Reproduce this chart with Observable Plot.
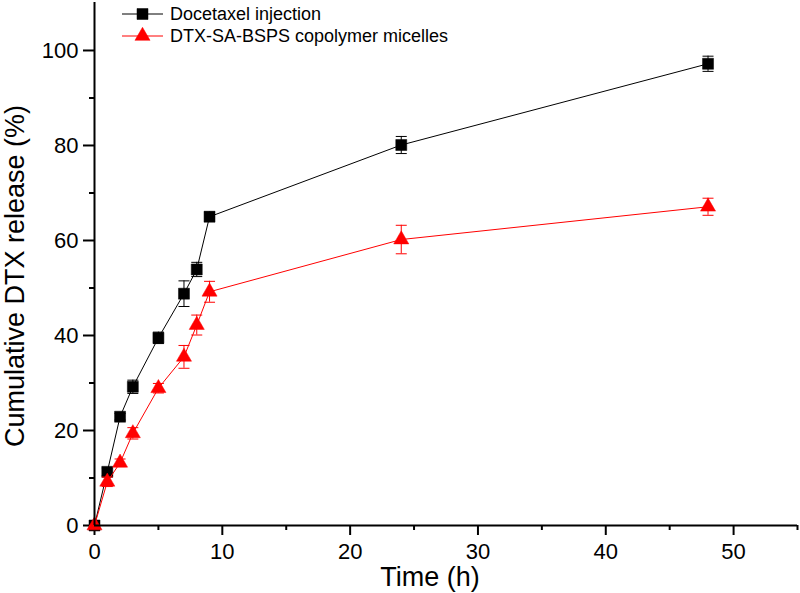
<!DOCTYPE html>
<html>
<head>
<meta charset="utf-8">
<script src="https://cdn.jsdelivr.net/npm/d3@7"></script>
<script src="https://cdn.jsdelivr.net/npm/@observablehq/plot@0.6"></script>
<style>
  html, body { margin: 0; padding: 0; background: #fff; }
  #chart { width: 800px; height: 593px; }
</style>
</head>
<body>
<div id="chart"></div>
<script>
// Data
const times = [0, 1, 2, 3, 5, 7, 8, 9, 24, 48];
const seriesNames = ["Docetaxel injection", "DTX-SA-BSPS copolymer micelles"];
const docetaxel = [0, 11.3, 22.9, 29.2, 39.5, 48.8, 53.9, 65.0, 80.1, 97.2];
const docetaxelErr = [0, 0.8, 0.7, 1.4, 1.2, 2.7, 1.5, 1.0, 1.8, 1.6];
const micelles = [0, 9.2, 13.2, 19.4, 28.9, 35.5, 42.2, 49.2, 60.2, 67.1];
const micellesErr = [0, 1.0, 0.8, 1.2, 1.0, 2.4, 2.1, 2.2, 3.0, 1.8];
const xMajorTicks = [0, 10, 20, 30, 40, 50];
const xMinorTicks = [5, 15, 25, 35, 45, 55];
const yMajorTicks = [0, 20, 40, 60, 80, 100];
const yMinorTicks = [10, 30, 50, 70, 90];
const xTitle = "Time (h)";
const yTitle = "Cumulative DTX release (%)";

const colors = ["#000000", "#ff0000"];
const symbols = ["square", "triangle"];

const rows = [];
times.forEach((t, i) => {
  rows.push({t, v: docetaxel[i], e: docetaxelErr[i], s: seriesNames[0]});
});
times.forEach((t, i) => {
  rows.push({t, v: micelles[i], e: micellesErr[i], s: seriesNames[1]});
});

const capSymbol = {
  draw(context, size) {
    const r = Math.sqrt(size / Math.PI);
    context.moveTo(-r, 0);
    context.lineTo(r, 0);
  }
};

const font = "'Liberation Sans', Arial, sans-serif";

const marks = [];
seriesNames.forEach((name, k) => {
  const d = rows.filter(r => r.s === name);
  marks.push(Plot.line(d, {x: "t", y: "v", stroke: colors[k], strokeWidth: 1}));
  marks.push(Plot.ruleX(d, {x: "t", y1: r => r.v - r.e, y2: r => r.v + r.e, stroke: colors[k], strokeWidth: 1}));
  marks.push(Plot.dot(d, {x: "t", y: r => r.v + r.e, symbol: capSymbol, r: 5.5, stroke: colors[k], strokeWidth: 1, fill: "none"}));
  marks.push(Plot.dot(d, {x: "t", y: r => r.v - r.e, symbol: capSymbol, r: 5.5, stroke: colors[k], strokeWidth: 1, fill: "none"}));
  marks.push(Plot.dot(d, {x: "t", y: "v", symbol: symbols[k], r: k === 0 ? 6.2 : 5.6, fill: colors[k], stroke: colors[k], strokeWidth: 0.5}));
});

const chart = Plot.plot({
  width: 800,
  height: 593,
  marginLeft: 94,
  marginRight: 3,
  marginTop: 2,
  marginBottom: 68,
  style: {fontFamily: font, color: "#000", background: "#fff"},
  x: {domain: [0, 55]},
  y: {domain: [0, 110.1]},
  marks: [
    Plot.axisX(xMajorTicks, {tickSize: 10, tickPadding: 8, fontSize: 22, strokeWidth: 2, label: null, tickFormat: d => String(d)}),
    Plot.axisX(xMinorTicks, {tickSize: 5, strokeWidth: 2, text: null, label: null}),
    Plot.axisY(yMajorTicks, {tickSize: 11, tickPadding: 5, fontSize: 22, strokeWidth: 2, label: null, tickFormat: d => String(d)}),
    Plot.axisY(yMinorTicks, {tickSize: 5, strokeWidth: 2, text: null, label: null}),
    ...marks,
    Plot.ruleY([0], {stroke: "#000", strokeWidth: 2}),
    Plot.ruleX([0], {stroke: "#000", strokeWidth: 2})
  ]
});

const svg = d3.select(chart);

// Axis titles
svg.append("text")
  .attr("x", 430).attr("y", 577).attr("dy", "0.35em")
  .style("font-family", font).style("font-size", "27px").style("text-anchor", "middle")
  .attr("fill", "#000").text(xTitle);
svg.append("text")
  .attr("transform", "translate(15,276) rotate(-90)").attr("dy", "0.35em")
  .style("font-family", font).style("font-size", "27px").style("text-anchor", "middle")
  .attr("fill", "#000").text(yTitle);

// Legend (inside the plot, top-left)
const leg = svg.append("g");
seriesNames.forEach((name, k) => {
  const cy = 14 + k * 22;
  const g = leg.append("g");
  g.append("line").attr("x1", 122).attr("x2", 163).attr("y1", cy).attr("y2", cy)
    .attr("stroke", colors[k]).attr("stroke-width", 1);
  const size = k === 0 ? Math.PI * 6.2 * 6.2 : Math.PI * 5.6 * 5.6;
  g.append("path")
    .attr("d", d3.symbol(k === 0 ? d3.symbolSquare : d3.symbolTriangle, size)())
    .attr("transform", `translate(142.5,${cy})`)
    .attr("fill", colors[k]).attr("stroke", colors[k]).attr("stroke-width", 0.5);
  g.append("text").attr("x", 170).attr("y", cy).attr("dy", "0.35em")
    .style("font-family", font).style("font-size", "18px").style("text-anchor", "start")
    .attr("fill", "#000").text(name);
});

document.getElementById("chart").appendChild(chart);
</script>
</body>
</html>
